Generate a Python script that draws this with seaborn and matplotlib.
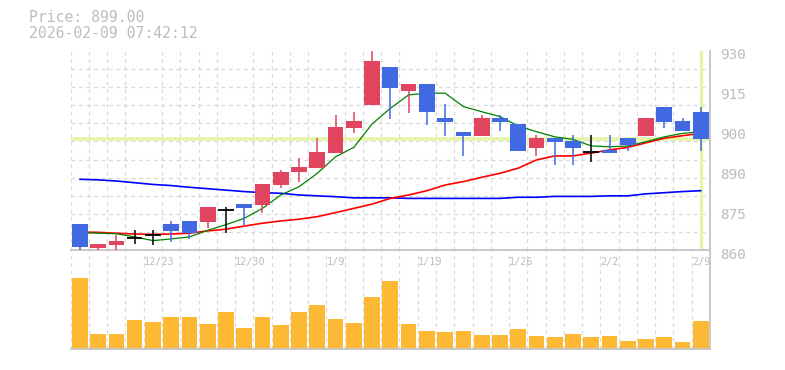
import numpy as np
import pandas as pd
import matplotlib
matplotlib.use('Agg')
import matplotlib.pyplot as plt
import matplotlib.transforms as mtransforms
import seaborn as sns

# daily data (35 trading days)
dates = ['12/17', '12/18', '12/19', '12/22', '12/23', '12/24', '12/25', '12/26', '12/29', '12/30',
         '1/5', '1/6', '1/7', '1/8', '1/9', '1/13', '1/14', '1/15', '1/16', '1/19',
         '1/20', '1/21', '1/22', '1/23', '1/26', '1/27', '1/28', '1/29', '1/30', '2/2',
         '2/3', '2/4', '2/5', '2/6', '2/9']
opens = [869.2, 860.8, 861.9, 864.2, 865.4, 869.2, 870.3, 870.0, 874.0, 876.2,
         876.0, 883.0, 887.3, 889.0, 894.2, 902.9, 911.1, 924.2, 916.0, 918.4,
         906.4, 901.4, 900.2, 906.4, 904.3, 895.9, 899.4, 898.3, 894.5, 895.1,
         899.4, 900.2, 910.3, 905.3, 908.5]
highs = [869.2, 862.2, 865.4, 867.1, 867.1, 870.3, 870.3, 875.3, 875.3, 876.2,
         883.3, 888.2, 892.3, 899.3, 907.5, 908.5, 930.2, 924.2, 918.4, 918.4,
         911.4, 901.4, 907.5, 907.5, 904.3, 900.4, 899.4, 900.4, 900.4, 900.4,
         899.4, 906.4, 910.3, 906.4, 910.3]
lows = [860.0, 859.9, 859.9, 862.1, 862.0, 863.0, 864.1, 867.7, 866.2, 868.9,
        873.2, 882.0, 884.1, 889.0, 894.2, 901.2, 911.1, 906.2, 908.3, 904.1,
        900.2, 893.2, 900.2, 901.9, 894.9, 893.2, 890.0, 890.0, 891.1, 894.2,
        894.9, 900.2, 902.9, 901.9, 894.9]
closes = [861.0, 862.2, 863.4, 864.2, 865.4, 866.9, 866.2, 875.3, 874.0, 874.9,
          883.3, 887.5, 889.2, 894.5, 903.2, 905.3, 926.4, 917.0, 918.4, 908.4,
          905.1, 900.2, 906.4, 905.1, 894.9, 899.4, 898.1, 895.9, 894.5, 894.2,
          896.9, 906.4, 905.1, 901.9, 899.0]
ma5 = [866.2, 866.0, 865.8, 864.7, 863.4, 864.0, 864.7, 867.0, 869.0, 871.2,
       874.7, 879.4, 882.3, 887.0, 892.8, 896.1, 904.3, 909.8, 914.5, 915.1,
       915.1, 910.4, 908.6, 906.9, 903.6, 901.6, 899.8, 898.9, 896.6, 896.3,
       896.6, 898.1, 899.8, 901.0, 901.6]
ma25 = [866.4, 866.3, 866.0, 865.7, 865.6, 865.7, 866.0, 866.8, 867.4, 868.5,
        869.5, 870.3, 870.9, 871.8, 873.2, 874.7, 876.2, 878.2, 879.4, 880.9,
        882.9, 884.1, 885.6, 887.0, 888.8, 891.7, 893.1, 893.1, 894.1, 895.2,
        896.1, 897.7, 899.3, 900.2, 901.0]
ma75 = [884.9, 884.7, 884.3, 883.7, 883.1, 882.7, 882.1, 881.6, 881.1, 880.6,
        880.2, 880.0, 879.4, 879.1, 878.8, 878.4, 878.4, 878.4, 878.2, 878.2,
        878.2, 878.2, 878.2, 878.2, 878.6, 878.6, 878.9, 878.9, 878.9, 879.1,
        879.1, 879.8, 880.2, 880.6, 880.9]
volume = [214, 46, 46, 88, 82, 97, 97, 76, 112, 64,
          97, 73, 112, 133, 91, 79, 157, 204, 76, 55,
          52, 55, 43, 43, 61, 40, 37, 46, 37, 40,
          25, 31, 37, 22, 85]

label_dates = ['12/23', '12/30', '1/9', '1/19', '1/26', '2/2', '2/9']
y_tick_pos = [860, 874, 888, 902, 916, 930]
y_tick_text = ['860', '875', '890', '900', '915', '930']
last_price = 899.00
stamp = '2026-02-09 07:42:12'

df = pd.DataFrame({'date': dates, 'open': opens, 'high': highs, 'low': lows,
                   'close': closes, 'ma5': ma5, 'ma25': ma25, 'ma75': ma75,
                   'volume': volume})
df['i'] = np.arange(len(df))

sns.set_style('white')
plt.rcParams['font.family'] = ['DejaVu Sans Mono']

UP = '#e0445e'
DOWN = '#4169e1'
TXT = '#bdbdbd'
GRID = '#d9d9d9'
HL = '#e4f4a8'
W = 0.86

fig = plt.figure(figsize=(7.85, 3.7), dpi=100)
ax = fig.add_axes([70.7 / 785, 1 - 250.3 / 370, (710 - 70.7) / 785, (250.3 - 50.7) / 370])
axv = fig.add_axes([70.7 / 785, 1 - 349.3 / 370, (710 - 70.7) / 785, (349.3 - 251) / 370])
axv.patch.set_alpha(0)

# price panel
ax.axhline(last_price, color=HL, lw=2.6, zorder=1)
ax.axvline(df.i.iloc[-1], ymin=0.012, ymax=1, color=HL, lw=2.4, zorder=1)

sns.lineplot(data=df, x='i', y='ma75', color='#0000ff', lw=1.2, ax=ax, zorder=2)
sns.lineplot(data=df, x='i', y='ma25', color='#ff0000', lw=1.2, ax=ax, zorder=2)
sns.lineplot(data=df, x='i', y='ma5', color='#008000', lw=0.9, ax=ax, zorder=2)

for r in df.itertuples():
    if r.close > r.open:
        c = UP
    elif r.close < r.open:
        c = DOWN
    else:
        c = 'black'
    ax.vlines(r.i, r.low, r.high, color=c, lw=1.1, zorder=3)
    if c == 'black':
        ax.hlines(r.close, r.i - W / 2, r.i + W / 2, color=c, lw=1.3, zorder=3)
    else:
        ax.bar(r.i, abs(r.close - r.open), bottom=min(r.open, r.close), width=W,
               color=c, linewidth=0, zorder=3)

ax.set_xlim(-0.5, len(df) - 0.5)
ax.set_ylim(860, 930)
ax.set_xticks(np.arange(-0.5, len(df), 1), minor=True)
ax.set_yticks(np.linspace(860, 930, 12), minor=True)
lab_idx = [dates.index(d) - 0.5 for d in label_dates]
ax.set_xticks(lab_idx, label_dates)
ax.set_yticks(y_tick_pos, y_tick_text)
ax.yaxis.tick_right()
ax.tick_params(which='both', length=0)
ax.tick_params(axis='y', labelcolor=TXT, labelsize=10.4, pad=7)
ax.tick_params(axis='x', labelcolor=TXT, labelsize=7.3, pad=5)
for t in ax.get_xticklabels():
    t.set_ha('left')
shift = mtransforms.ScaledTranslation(0, -3 / 100, fig.dpi_scale_trans)
for t in ax.get_yticklabels():
    t.set_transform(t.get_transform() + shift)
ax.grid(which='minor', color=GRID, lw=0.9, linestyle=(0, (3, 3)))
ax.grid(which='major', visible=False)
ax.set_axisbelow(True)
ax.set_xlabel('')
ax.set_ylabel('')
for s in ['top', 'left']:
    ax.spines[s].set_visible(False)
for s in ['bottom', 'right']:
    ax.spines[s].set_color('#c4c4c4')
    ax.spines[s].set_linewidth(1.3)

# volume panel
sns.barplot(data=df, x='i', y='volume', color='#fdb933', saturation=1, width=W,
            linewidth=0, ax=axv)
axv.set_xlim(-0.5, len(df) - 0.5)
axv.set_ylim(0, 214 * 98.3 / 71.5)
axv.set_xticks([])
axv.set_yticks([])
axv.set_xticks(np.arange(-0.5, len(df), 1), minor=True)
axv.tick_params(which='both', length=0, labelbottom=False, labelleft=False)
axv.grid(which='minor', axis='x', color=GRID, lw=0.9, linestyle=(0, (3, 3)))
axv.set_axisbelow(True)
axv.set_xlabel('')
axv.set_ylabel('')
for s in ['top', 'left']:
    axv.spines[s].set_visible(False)
for s in ['bottom', 'right']:
    axv.spines[s].set_color('#c4c4c4')
    axv.spines[s].set_linewidth(1.3)

fig.text(29 / 785, 1 - 22 / 370, f'Price: {last_price:.2f}', color=TXT, fontsize=10.6, va='baseline')
fig.text(29 / 785, 1 - 37.5 / 370, stamp, color=TXT, fontsize=10.6, va='baseline')

fig.savefig('out.png', dpi=100)
